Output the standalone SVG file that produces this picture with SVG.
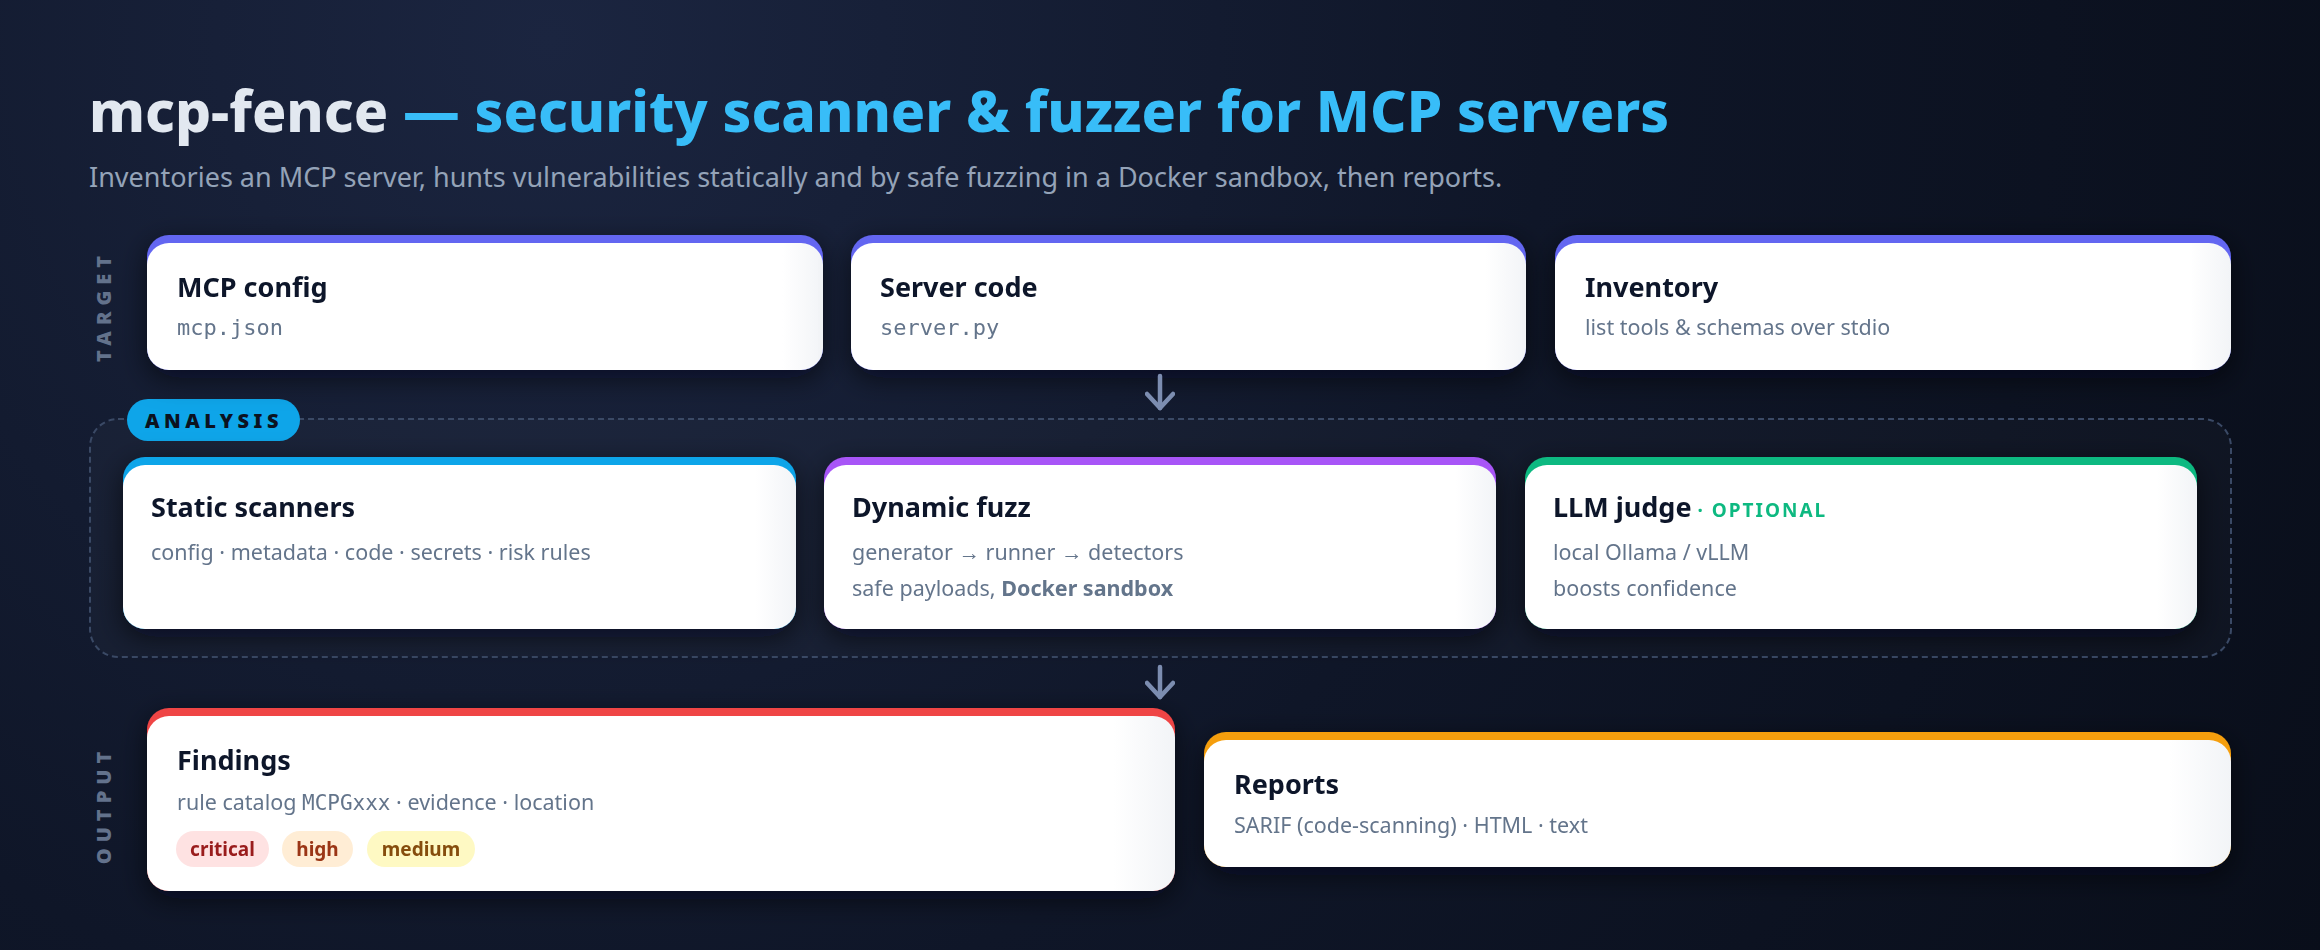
<svg xmlns="http://www.w3.org/2000/svg" width="2320" height="950" viewBox="0 0 2320 950">
<defs>
<radialGradient id="bg" cx="550" cy="40" r="2000" gradientUnits="userSpaceOnUse">
<stop offset="0" stop-color="#1b2540"/>
<stop offset="0.5" stop-color="#0f1628"/>
<stop offset="1" stop-color="#090e1a"/>
</radialGradient>
<linearGradient id="cardfill" x1="0" y1="0" x2="1" y2="0">
<stop offset="0" stop-color="#ffffff"/>
<stop offset="0.94" stop-color="#ffffff"/>
<stop offset="1" stop-color="#f2f4f7"/>
</linearGradient>
<filter id="shadow" x="-10%" y="-20%" width="120%" height="150%">
<feDropShadow dx="0" dy="8" stdDeviation="14" flood-color="#02050c" flood-opacity="0.6"/>
</filter>
<marker id="head" viewBox="0 0 20 30" refX="17" refY="15" markerWidth="20" markerHeight="30" markerUnits="userSpaceOnUse" orient="auto">
<path d="M3 2 L17 15 L3 28" fill="none" stroke="#7c8db0" stroke-width="4.5" stroke-linecap="round" stroke-linejoin="round"/>
</marker>
</defs>
<style>
.ttl{font-family:"Noto Sans","Liberation Sans",sans-serif;font-weight:700;font-size:27px;fill:#0f172a}
.sub{font-family:"Noto Sans","Liberation Sans",sans-serif;font-size:21.5px;fill:#64748b}
.mono{font-family:"DejaVu Sans Mono","Liberation Mono",monospace;font-size:22px;fill:#64748b}
.lane{font-family:"Noto Sans","Liberation Sans",sans-serif;font-weight:900;font-size:20px;letter-spacing:6px;fill:#63728c}
.white{fill:url(#cardfill)}
.pilltxt{font-family:"Noto Sans","Liberation Sans",sans-serif;font-weight:700;font-size:19px}
.conn{stroke:#7c8db0;stroke-width:4.5;stroke-linecap:round;fill:none}
</style>
<rect width="2320" height="950" fill="url(#bg)"/>

<text x="89" y="132" font-family="'Noto Sans','Liberation Sans',sans-serif" font-weight="800" font-size="56.8" fill="#e2e8f0">mcp-fence <tspan fill="#38bdf8">— security scanner &amp; fuzzer for MCP servers</tspan></text>
<text x="89" y="187" font-family="'Noto Sans','Liberation Sans',sans-serif" font-size="27" fill="#94a3b8">Inventories an MCP server, hunts vulnerabilities statically and by safe fuzzing in a Docker sandbox, then reports.</text>

<text class="lane" transform="translate(111,306) rotate(-90)" text-anchor="middle">TARGET</text>
<text class="lane" transform="translate(111,805) rotate(-90)" text-anchor="middle">OUTPUT</text>

<g id="analysis">
<rect x="90" y="419" width="2141" height="238" rx="28" fill="#ffffff" fill-opacity="0.025" stroke="#3a4965" stroke-width="2" stroke-dasharray="6 4"/>
<rect x="127" y="399" width="173" height="42" rx="21" fill="#0ea5e9"/>
<text x="214" y="428" text-anchor="middle" font-family="'Noto Sans','Liberation Sans',sans-serif" font-weight="900" font-size="20" letter-spacing="4.5" fill="#0b1220">ANALYSIS</text>
</g>

<g id="mcp-config" filter="url(#shadow)">
<rect x="147" y="235" width="676" height="135" rx="22" fill="#6366f1"/>
<rect class="white" x="147" y="243" width="676" height="127" rx="22"/>
<text class="ttl" x="177" y="297">MCP config</text>
<text class="mono" x="177" y="335">mcp.json</text>
</g>
<g id="server-code" filter="url(#shadow)">
<rect x="851" y="235" width="675" height="135" rx="22" fill="#6366f1"/>
<rect class="white" x="851" y="243" width="675" height="127" rx="22"/>
<text class="ttl" x="880" y="297">Server code</text>
<text class="mono" x="880" y="335">server.py</text>
</g>
<g id="inventory" filter="url(#shadow)">
<rect x="1555" y="235" width="676" height="135" rx="22" fill="#6366f1"/>
<rect class="white" x="1555" y="243" width="676" height="127" rx="22"/>
<text class="ttl" x="1585" y="297">Inventory</text>
<text class="sub" x="1585" y="335">list tools &amp; schemas over stdio</text>
</g>

<g id="static-scanners" filter="url(#shadow)">
<rect x="123" y="457" width="673" height="172" rx="22" fill="#0ea5e9"/>
<rect class="white" x="123" y="465" width="673" height="164" rx="22"/>
<text class="ttl" x="151" y="517">Static scanners</text>
<text class="sub" x="151" y="560">config · metadata · code · secrets · risk rules</text>
</g>
<g id="dynamic-fuzz" filter="url(#shadow)">
<rect x="824" y="457" width="672" height="172" rx="22" fill="#a855f7"/>
<rect class="white" x="824" y="465" width="672" height="164" rx="22"/>
<text class="ttl" x="852" y="517">Dynamic fuzz</text>
<text class="sub" x="852" y="560">generator → runner → detectors</text>
<text class="sub" x="852" y="596">safe payloads, <tspan font-weight="700">Docker sandbox</tspan></text>
</g>
<g id="llm-judge" filter="url(#shadow)">
<rect x="1525" y="457" width="672" height="172" rx="22" fill="#10b981"/>
<rect class="white" x="1525" y="465" width="672" height="164" rx="22"/>
<text class="ttl" x="1553" y="517">LLM judge<tspan font-size="19" fill="#10b981" letter-spacing="2" dx="6">· OPTIONAL</tspan></text>
<text class="sub" x="1553" y="560">local Ollama / vLLM</text>
<text class="sub" x="1553" y="596">boosts confidence</text>
</g>

<g id="findings" filter="url(#shadow)">
<rect x="147" y="708" width="1028" height="183" rx="22" fill="#ef4444"/>
<rect class="white" x="147" y="716" width="1028" height="175" rx="22"/>
<text class="ttl" x="177" y="770">Findings</text>
<text class="sub" x="177" y="810">rule catalog <tspan font-family="'DejaVu Sans Mono','Liberation Mono',monospace" font-size="21">MCPGxxx</tspan> · evidence · location</text>
<rect x="176" y="831" width="93" height="36" rx="18" fill="#fee2e2"/>
<text class="pilltxt" x="222.5" y="856" text-anchor="middle" fill="#991b1b">critical</text>
<rect x="282" y="831" width="71" height="36" rx="18" fill="#ffedd5"/>
<text class="pilltxt" x="317.5" y="856" text-anchor="middle" fill="#9a3412">high</text>
<rect x="367" y="831" width="108" height="36" rx="18" fill="#fef9c3"/>
<text class="pilltxt" x="421" y="856" text-anchor="middle" fill="#854d0e">medium</text>
</g>
<g id="reports" filter="url(#shadow)">
<rect x="1204" y="732" width="1027" height="135" rx="22" fill="#f59e0b"/>
<rect class="white" x="1204" y="740" width="1027" height="127" rx="22"/>
<text class="ttl" x="1234" y="794">Reports</text>
<text class="sub" x="1234" y="833">SARIF (code-scanning) · HTML · text</text>
</g>

<g id="connectors">
<path class="conn" d="M1160 376 V408" marker-end="url(#head)"/>
<path class="conn" d="M1160 667 V697" marker-end="url(#head)"/>
</g>
</svg>
